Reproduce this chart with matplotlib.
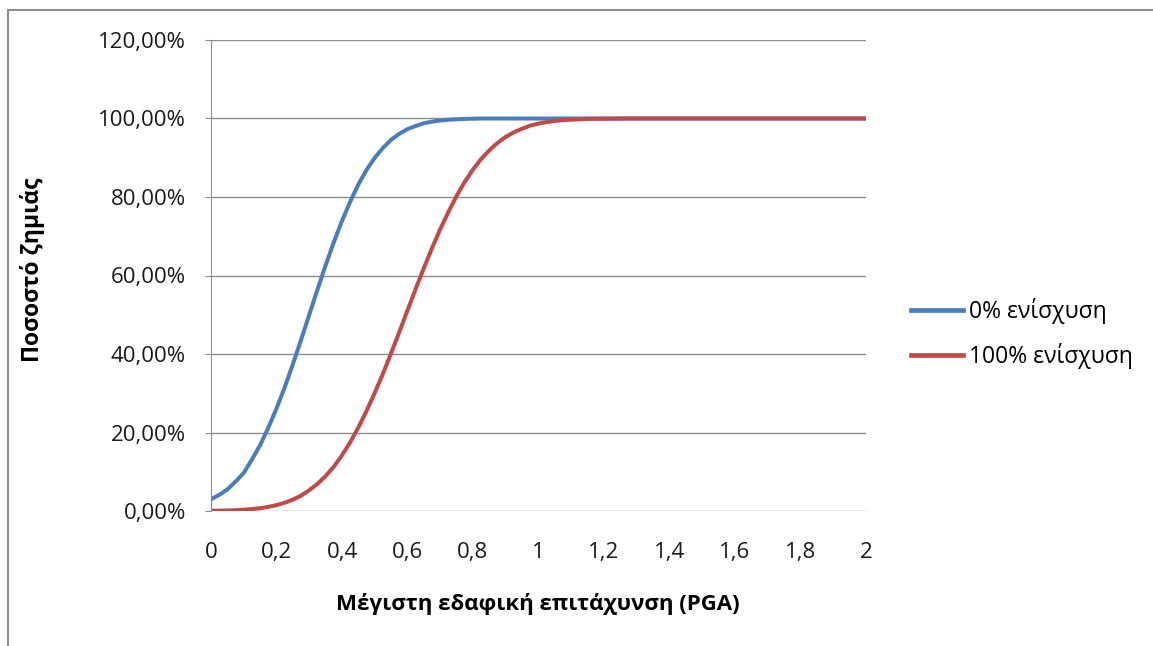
import matplotlib.pyplot as plt
from matplotlib.ticker import FuncFormatter, MultipleLocator
from matplotlib.lines import Line2D

plt.rcParams['font.family'] = ['Open Sans', 'DejaVu Sans']

# PGA values (g)
pga = [0, 0.025, 0.05, 0.075, 0.1, 0.125, 0.15, 0.175, 0.2, 0.225, 0.25,
       0.275, 0.3, 0.325, 0.35, 0.375, 0.4, 0.425, 0.45, 0.475, 0.5, 0.525,
       0.55, 0.575, 0.6, 0.625, 0.65, 0.675, 0.7, 0.725, 0.75, 0.775, 0.8,
       0.825, 0.85, 0.875, 0.9, 0.925, 0.95, 0.975, 1.0, 1.025, 1.05, 1.075,
       1.1, 1.125, 1.15, 1.175, 1.2, 1.3, 1.4, 1.5, 1.6, 1.7, 1.8, 1.9, 2.0]

# damage percentage, 0% strengthening
dmg_0 = [0.030, 0.041, 0.055, 0.075, 0.097, 0.131, 0.168, 0.212, 0.261,
         0.315, 0.374, 0.436, 0.500, 0.564, 0.626, 0.685, 0.739, 0.788,
         0.832, 0.869, 0.900, 0.925, 0.946, 0.961, 0.973, 0.981, 0.988,
         0.992, 0.995, 0.997, 0.998, 0.999, 0.9995, 1.0, 1.0, 1.0, 1.0,
         1.0, 1.0, 1.0, 1.0, 1.0, 1.0, 1.0, 1.0, 1.0, 1.0, 1.0, 1.0,
         1.0, 1.0, 1.0, 1.0, 1.0, 1.0, 1.0, 1.0]

# damage percentage, 100% strengthening
dmg_100 = [0.0005, 0.0009, 0.0014, 0.0021, 0.0033, 0.0049, 0.0072, 0.0105,
           0.015, 0.021, 0.029, 0.039, 0.053, 0.069, 0.089, 0.113, 0.142,
           0.175, 0.213, 0.255, 0.301, 0.350, 0.402, 0.456, 0.511, 0.566,
           0.619, 0.670, 0.718, 0.762, 0.803, 0.839, 0.870, 0.897, 0.919,
           0.938, 0.953, 0.965, 0.974, 0.982, 0.987, 0.991, 0.994, 0.996,
           0.997, 0.998, 0.999, 0.9993, 0.9995, 1.0, 1.0, 1.0, 1.0, 1.0,
           1.0, 1.0, 1.0]

labels = ['0% ενίσχυση', '100% ενίσχυση']
colors = ['#4A7EBB', '#BE4B48']

fig = plt.figure(figsize=(11.53, 6.46), dpi=100)
ax = fig.add_axes([211 / 1153, 1 - 511 / 646, 655 / 1153, 471 / 646])

ax.plot(pga, dmg_0, color=colors[0], linewidth=2.9, solid_capstyle='round', solid_joinstyle='round')
ax.plot(pga, dmg_100, color=colors[1], linewidth=2.9, solid_capstyle='round', solid_joinstyle='round')

ax.set_xlim(0, 2)
ax.set_ylim(0, 1.2)
ax.xaxis.set_major_locator(MultipleLocator(0.2))
ax.yaxis.set_major_locator(MultipleLocator(0.2))
ax.xaxis.set_major_formatter(FuncFormatter(lambda v, p: ('%g' % round(v, 1)).replace('.', ',')))
ax.yaxis.set_major_formatter(FuncFormatter(lambda v, p: ('%.2f%%' % (v * 100)).replace('.', ',')))

ax.grid(axis='y', color='#8C8C8C', linewidth=1)
ax.set_axisbelow(True)
for s in ['top', 'right', 'bottom']:
    ax.spines[s].set_visible(False)
ax.spines['left'].set_color('#8C8C8C')
ax.tick_params(axis='y', length=4, color='#8C8C8C', labelsize=16, pad=14, labelcolor='#1a1a1a')
ax.tick_params(axis='x', length=0, labelsize=16, pad=22, labelcolor='#1a1a1a')

ax.set_xlabel('Μέγιστη εδαφική επιτάχυνση (PGA)', fontsize=16, fontweight='bold')
ax.set_ylabel('Ποσοστό ζημιάς', fontsize=16.5, fontweight='bold')
ax.xaxis.set_label_coords(0.499, -0.175)
ax.yaxis.set_label_coords(-0.253, 0.512)

handles = [Line2D([], [], color=c, linewidth=3.4) for c in colors]
fig.legend(handles, labels, loc='upper left', bbox_to_anchor=(890 / 1153, 1 - 277 / 646),
           frameon=False, fontsize=16.5, handlelength=2.3, handletextpad=0.25,
           labelspacing=0.85)

# outer chart border
fig.add_artist(Line2D([8 / 1153, 8 / 1153], [1 - 10 / 646, 0], color='#8C8C8C', linewidth=1.5))
fig.add_artist(Line2D([8 / 1153, 1], [1 - 10 / 646, 1 - 10 / 646], color='#8C8C8C', linewidth=1.5))

fig.savefig('out.png', dpi=100)
